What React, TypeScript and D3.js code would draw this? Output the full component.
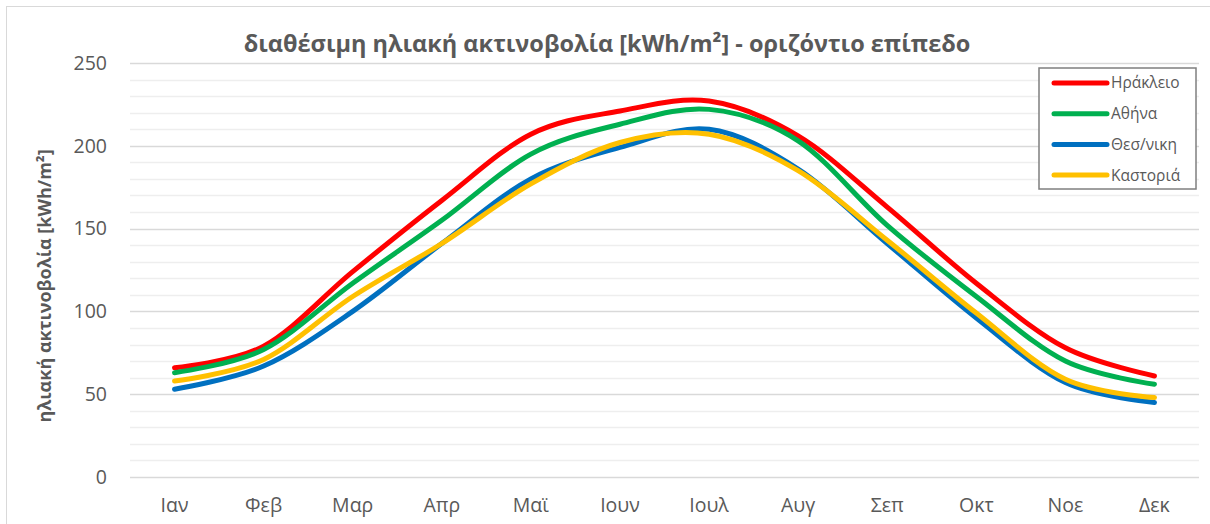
import { useEffect, useRef } from "react";
import * as d3 from "d3";

const months = ["Ιαν", "Φεβ", "Μαρ", "Απρ", "Μαϊ", "Ιουν", "Ιουλ", "Αυγ", "Σεπ", "Οκτ", "Νοε", "Δεκ"];
const cities = ["Ηράκλειο", "Αθήνα", "Θεσ/νικη", "Καστοριά"];
const colors = ["#FF0000", "#00B050", "#0070C0", "#FFC000"];

const heraklion = [66, 79, 124, 167, 207, 221, 227, 206, 163, 117, 78, 61];
const athens = [63, 77, 117, 155, 195, 213, 222, 203, 152, 109, 70, 56];
const thessaloniki = [53, 67, 100, 141, 180, 199, 210, 186, 141, 96, 57, 45];
const kastoria = [58, 71, 109, 141, 177, 202, 207, 185, 143, 99, 59, 48];

const yTicks = [0, 50, 100, 150, 200, 250];

const W = 1210;
const H = 524;
const FONT = "'Open Sans', 'Noto Sans', sans-serif";

export default function App() {
  const svgRef = useRef<SVGSVGElement | null>(null);

  useEffect(() => {
    if (!svgRef.current) return;
    const svg = d3.select(svgRef.current);
    svg.selectAll("*").remove();

    const series = [heraklion, athens, thessaloniki, kastoria];

    const margin = { top: 63, right: 11, bottom: 47, left: 130 };
    const innerW = W - margin.left - margin.right;
    const innerH = H - margin.top - margin.bottom;

    // chart frame
    svg
      .append("rect")
      .attr("x", 6.5)
      .attr("y", 6.5)
      .attr("width", W + 10)
      .attr("height", H + 10)
      .attr("fill", "#fff")
      .attr("stroke", "#d9d9d9");

    const g = svg.append("g").attr("transform", `translate(${margin.left},${margin.top})`);

    const x = d3.scaleBand<string>().domain(months).range([0, innerW]);
    const y = d3.scaleLinear().domain([0, 250]).range([innerH, 0]);

    // minor gridlines
    g.append("g")
      .selectAll("line")
      .data(d3.range(10, 250, 10).filter((v) => v % 50 !== 0))
      .join("line")
      .attr("x1", 0)
      .attr("x2", innerW)
      .attr("y1", (d) => Math.round(y(d)) + 0.5)
      .attr("y2", (d) => Math.round(y(d)) + 0.5)
      .attr("stroke", "#eeeeee")
      .attr("stroke-width", 1.5);

    // major gridlines
    g.append("g")
      .selectAll("line")
      .data(yTicks)
      .join("line")
      .attr("x1", 0)
      .attr("x2", innerW)
      .attr("y1", (d) => Math.round(y(d)) + 0.5)
      .attr("y2", (d) => Math.round(y(d)) + 0.5)
      .attr("stroke", "#d9d9d9")
      .attr("stroke-width", 1.5);

    // y tick labels
    g.append("g")
      .selectAll("text")
      .data(yTicks)
      .join("text")
      .attr("x", -23)
      .attr("y", (d) => y(d))
      .attr("dy", "0.35em")
      .attr("text-anchor", "end")
      .attr("font-family", FONT)
      .attr("font-size", 19.5)
      .attr("fill", "#595959")
      .text((d) => d);

    // x tick labels
    g.append("g")
      .selectAll("text")
      .data(months)
      .join("text")
      .attr("x", (d) => (x(d) ?? 0) + x.bandwidth() / 2)
      .attr("y", innerH + 35)
      .attr("text-anchor", "middle")
      .attr("font-family", FONT)
      .attr("font-size", 19.5)
      .attr("fill", "#595959")
      .text((d) => d);

    // lines
    const line = d3
      .line<number>()
      .x((_, i) => (x(months[i]) ?? 0) + x.bandwidth() / 2)
      .y((d) => y(d))
      .curve(d3.curveCardinal.tension(0));

    series.forEach((s, i) => {
      g.append("path")
        .datum(s)
        .attr("fill", "none")
        .attr("stroke", colors[i])
        .attr("stroke-width", 5)
        .attr("stroke-linecap", "round")
        .attr("stroke-linejoin", "round")
        .attr("d", line);
    });

    // title
    svg
      .append("text")
      .attr("x", 607)
      .attr("y", 52)
      .attr("text-anchor", "middle")
      .attr("font-family", FONT)
      .attr("font-size", 23.5)
      .attr("font-weight", "bold")
      .attr("fill", "#595959")
      .text("διαθέσιμη ηλιακή ακτινοβολία [kWh/m²] - οριζόντιο επίπεδο");

    // y axis title
    svg
      .append("text")
      .attr("transform", "translate(51,286) rotate(-90)")
      .attr("text-anchor", "middle")
      .attr("font-family", FONT)
      .attr("font-size", 18)
      .attr("font-weight", "bold")
      .attr("fill", "#595959")
      .text("ηλιακή ακτινοβολία [kWh/m²]");

    // legend
    const legend = svg.append("g").attr("transform", "translate(1039,68)");
    legend
      .append("rect")
      .attr("width", 157)
      .attr("height", 121)
      .attr("fill", "#fff")
      .attr("stroke", "#7f7f7f")
      .attr("stroke-width", 1.5);

    cities.forEach((c, i) => {
      const row = legend.append("g").attr("transform", `translate(0,${15 + i * 30.7})`);
      row
        .append("line")
        .attr("x1", 15)
        .attr("x2", 68)
        .attr("stroke", colors[i])
        .attr("stroke-width", 5)
        .attr("stroke-linecap", "round");
      row
        .append("text")
        .attr("x", 72)
        .attr("dy", "0.35em")
        .attr("font-family", FONT)
        .attr("font-size", 15.5)
        .attr("fill", "#595959")
        .text(c);
    });
  }, []);

  return (
    <div style={{ position: "absolute", left: 0, top: 0 }}>
      <svg ref={svgRef} width={W} height={H} style={{ display: "block" }} />
    </div>
  );
}
